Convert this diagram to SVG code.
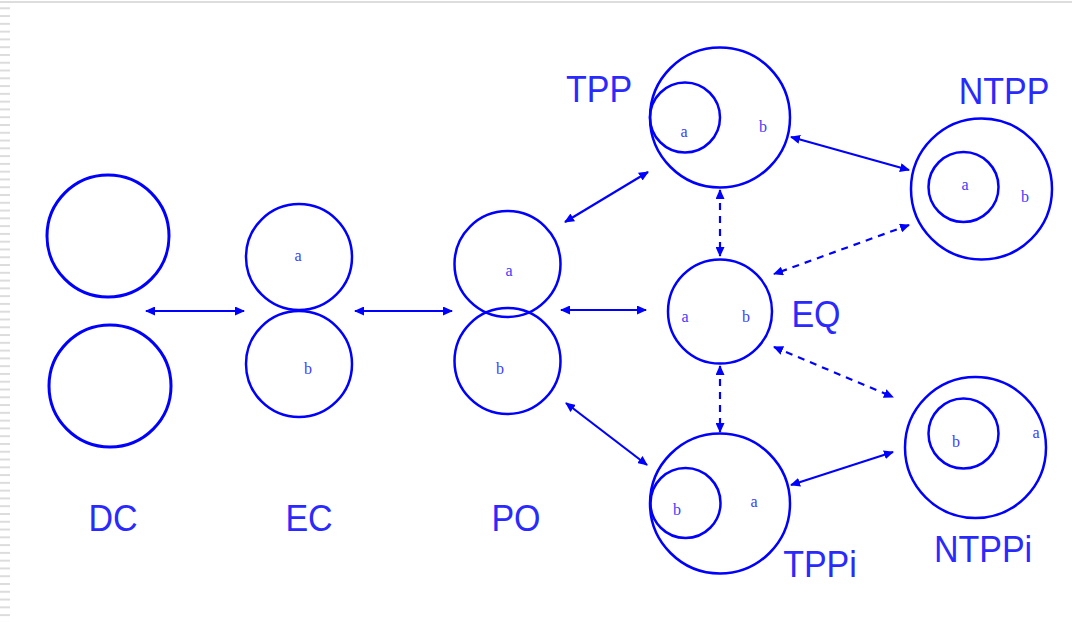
<svg xmlns="http://www.w3.org/2000/svg" width="1072" height="622" viewBox="0 0 1072 622">
  <style>
    .ring { fill: none; stroke: #0000ff; stroke-width: 2.5; }
    .ring-dc { fill: none; stroke: #0000ff; stroke-width: 3; }
    .link { fill: none; stroke: #0000ff; stroke-width: 2.2; marker-start: url(#head); marker-end: url(#head); }
    .dash { stroke-dasharray: 7 6; }
    .name { font-family: "Liberation Sans", Arial, sans-serif; font-size: 34px; fill: #2a2aff; text-anchor: middle; }
    .tag { font-family: "Liberation Serif", "Times New Roman", serif; font-size: 16px; fill: #3c3cff; text-anchor: middle; }
  </style>
  <defs>
    <marker id="head" viewBox="0 0 10 9" refX="9" refY="4.5" markerWidth="10" markerHeight="9" markerUnits="userSpaceOnUse" orient="auto-start-reverse">
      <path d="M0,0 L10,4.5 L0,9 z" fill="#0000ff"/>
    </marker>
    <pattern id="rule" x="0" y="7.3" width="10" height="7.78" patternUnits="userSpaceOnUse">
      <rect x="0" y="0" width="10" height="2" fill="#dcdcdc"/>
    </pattern>
  </defs>

  <!-- page background with ruled margin -->
  <rect x="0" y="0" width="1072" height="622" fill="#ffffff"/>
  <rect x="0" y="1" width="1072" height="2" fill="#dddddd"/>
  <rect x="0" y="7" width="10" height="615" fill="url(#rule)"/>

  <!-- connectors -->
  <g id="connectors">
    <line class="link" x1="146" y1="311" x2="244" y2="311"/>
    <line class="link" x1="355" y1="311" x2="452" y2="311"/>
    <line class="link" x1="561" y1="310" x2="646" y2="310"/>
    <line class="link" x1="565" y1="222" x2="648" y2="172"/>
    <line class="link" x1="566" y1="403" x2="647" y2="465"/>
    <line class="link" x1="791" y1="137" x2="909" y2="170"/>
    <line class="link" x1="791" y1="485" x2="893" y2="452"/>
    <line class="link dash" x1="720" y1="190" x2="720" y2="256"/>
    <line class="link dash" x1="720" y1="366" x2="720" y2="432"/>
    <line class="link dash" x1="909" y1="225" x2="774" y2="274"/>
    <line class="link dash" x1="774" y1="347" x2="893" y2="397"/>
  </g>

  <!-- DC: disconnected -->
  <g id="dc">
    <circle class="ring-dc" cx="108" cy="236" r="61"/>
    <circle class="ring-dc" cx="110" cy="386" r="61"/>
    <text class="name" transform="translate(113,531) scale(1,1.1)">DC</text>
  </g>

  <!-- EC: externally connected -->
  <g id="ec">
    <circle class="ring" cx="299" cy="257" r="53"/>
    <circle class="ring" cx="299" cy="364" r="53"/>
    <text class="tag" x="298" y="261">a</text>
    <text class="tag" x="308" y="374">b</text>
    <text class="name" transform="translate(309,531) scale(1,1.1)">EC</text>
  </g>

  <!-- PO: partial overlap -->
  <g id="po">
    <circle class="ring" cx="507.5" cy="264" r="53"/>
    <circle class="ring" cx="507.5" cy="361" r="53"/>
    <text class="tag" x="509" y="276">a</text>
    <text class="tag" x="500" y="374">b</text>
    <text class="name" transform="translate(516,531) scale(1,1.1)">PO</text>
  </g>

  <!-- EQ: equal -->
  <g id="eq">
    <circle class="ring" cx="720" cy="311.5" r="52"/>
    <text class="tag" x="685" y="322">a</text>
    <text class="tag" x="746" y="322">b</text>
    <text class="name" transform="translate(816,327) scale(1,1.1)">EQ</text>
  </g>

  <!-- TPP: tangential proper part -->
  <g id="tpp">
    <circle class="ring" cx="720" cy="117.5" r="70"/>
    <circle class="ring" cx="685" cy="117.5" r="35"/>
    <text class="tag" x="684" y="137">a</text>
    <text class="tag" x="763" y="132">b</text>
    <text class="name" transform="translate(599,102) scale(1,1.1)">TPP</text>
  </g>

  <!-- NTPP: non-tangential proper part -->
  <g id="ntpp">
    <circle class="ring" cx="981.5" cy="189" r="70.5"/>
    <circle class="ring" cx="963.5" cy="187" r="35"/>
    <text class="tag" x="965" y="190">a</text>
    <text class="tag" x="1025" y="202">b</text>
    <text class="name" transform="translate(1004,104) scale(1,1.1)">NTPP</text>
  </g>

  <!-- TPPi: tangential proper part inverse -->
  <g id="tppi">
    <circle class="ring" cx="720" cy="503.5" r="70"/>
    <circle class="ring" cx="685.5" cy="503" r="35"/>
    <text class="tag" x="677" y="515">b</text>
    <text class="tag" x="754" y="507">a</text>
    <text class="name" transform="translate(820,577) scale(1,1.1)">TPPi</text>
  </g>

  <!-- NTPPi: non-tangential proper part inverse -->
  <g id="ntppi">
    <circle class="ring" cx="975.5" cy="447.5" r="70.5"/>
    <circle class="ring" cx="963.5" cy="433.5" r="35"/>
    <text class="tag" x="956" y="447">b</text>
    <text class="tag" x="1036" y="438">a</text>
    <text class="name" transform="translate(983,562) scale(1,1.1)">NTPPi</text>
  </g>
</svg>
